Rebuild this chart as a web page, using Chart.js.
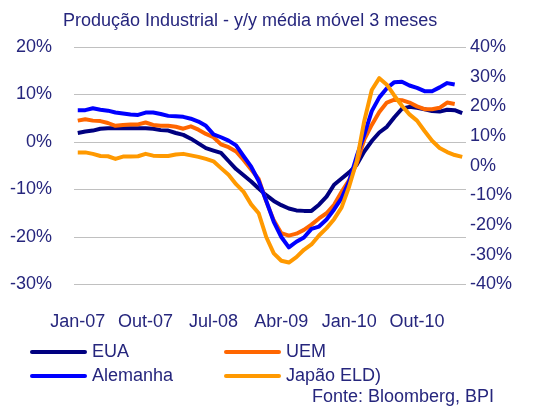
<!DOCTYPE html>
<html lang="pt">
<head>
<meta charset="utf-8">
<title>Produção Industrial</title>
<script src="https://cdn.jsdelivr.net/npm/chart.js@4.4.1/dist/chart.umd.min.js"></script>
<style>
  html, body { margin: 0; padding: 0; background: #fff; }
  #wrap { position: relative; width: 541px; height: 409px; }
</style>
</head>
<body>
<div id="wrap"><canvas id="grafico"></canvas></div>
<script>
// meses Jan-07 .. Abr-11
const categorias = [
  'Jan-07','Fev-07','Mar-07','Abr-07','Mai-07','Jun-07','Jul-07','Ago-07','Set-07','Out-07','Nov-07','Dez-07',
  'Jan-08','Fev-08','Mar-08','Abr-08','Mai-08','Jun-08','Jul-08','Ago-08','Set-08','Out-08','Nov-08','Dez-08',
  'Jan-09','Fev-09','Mar-09','Abr-09','Mai-09','Jun-09','Jul-09','Ago-09','Set-09','Out-09','Nov-09','Dez-09',
  'Jan-10','Fev-10','Mar-10','Abr-10','Mai-10','Jun-10','Jul-10','Ago-10','Set-10','Out-10','Nov-10','Dez-10',
  'Jan-11','Fev-11','Mar-11','Abr-11'
];
const rotulosX = ['Jan-07','Out-07','Jul-08','Abr-09','Jan-10','Out-10'];

// eixo esquerdo (%)
const eua = [1.9,2.2,2.4,2.8,2.9,2.9,2.9,2.9,2.9,2.9, 2.8,2.5,2.4,1.9,1.5,0.7,-0.3,-1.3,-1.8,-2.3,
  -4.0,-5.7,-7.0,-8.3,-9.8,-11.2,-12.4,-13.3,-14.0,-14.4, -14.5,-14.5,-13.2,-11.5,-9.0,-7.7,-6.4,-4.8,-2.0,0.2,
  2.0,3.2,5.2,7.0,7.4,7.2,6.9,6.5,6.4,6.8, 6.7,6.1];
const uem = [4.5,4.8,4.5,4.4,4.0,3.4,3.6,3.7,3.7,4.1, 3.6,3.4,3.4,3.2,2.8,3.3,2.6,1.7,1.0,-0.5,
  -1.1,-2.0,-3.8,-5.8,-7.8,-12.5,-16.5,-19.2,-19.7,-19.3, -18.5,-17.4,-16.1,-15.0,-13.2,-10.5,-8.0,-4.5,0.5,3.6,
  6.3,8.3,8.9,8.8,8.3,7.5,6.9,6.9,7.2,8.3, 8.0];
const alemanha = [6.7,6.7,7.1,6.8,6.6,6.2,6.0,5.8,5.7,6.2, 6.2,5.9,5.5,5.4,5.3,4.9,4.3,3.4,1.6,1.0,
  0.3,-0.7,-3.0,-5.2,-8.2,-12.4,-16.8,-20.0,-22.2,-21.0, -20.1,-18.3,-17.8,-16.3,-14.2,-11.8,-8.3,-3.0,1.5,6.5,
  9.4,11.3,12.6,12.7,11.9,11.4,10.7,10.7,11.5,12.4, 12.1];
// eixo direito (%)
const japao = [4.5,4.5,4.0,3.3,3.2,2.3,3.1,3.1,3.2,4.0, 3.4,3.3,3.3,3.8,4.0,3.5,3.0,2.3,1.5,-0.8,
  -3.0,-6.2,-8.8,-13.0,-16.0,-24.0,-29.5,-32.0,-32.6,-30.8, -28.3,-26.5,-23.5,-21.0,-18.0,-14.0,-7.0,1.5,15.0,25.5,
  29.5,27.3,23.6,20.2,17.3,15.2,11.7,8.4,6.0,4.6, 3.6,3.0];

const corTexto = '#26267d';
const fonte = 'Arial, "Liberation Sans", sans-serif';

// titulo, legenda e fonte desenhados a mao
const extras = {
  id: 'extras',
  afterDraw(chart) {
    const ctx = chart.ctx;
    ctx.save();
    ctx.fillStyle = corTexto;
    ctx.font = '18px ' + fonte;
    ctx.textBaseline = 'middle';
    ctx.textAlign = 'left';
    ctx.fillText('Produção Industrial - y/y média móvel 3 meses', 63, 21);

    const pos = [[32, 352], [226, 352], [32, 376], [226, 376]];
    chart.data.datasets.forEach(function(ds, i) {
      const p = pos[i];
      ctx.strokeStyle = ds.borderColor;
      ctx.lineWidth = 4;
      ctx.lineCap = 'round';
      ctx.beginPath();
      ctx.moveTo(p[0], p[1]);
      ctx.lineTo(p[0] + 53, p[1]);
      ctx.stroke();
      ctx.fillText(ds.label, p[0] + 60, p[1]);
    });

    ctx.textAlign = 'right';
    ctx.fillText('Fonte: Bloomberg, BPI', 494, 397);
    ctx.restore();
  }
};

new Chart(document.getElementById('grafico'), {
  type: 'line',
  data: {
    labels: categorias,
    datasets: [
      { label: 'EUA', data: eua, borderColor: '#000080', yAxisID: 'y', order: 4 },
      { label: 'UEM', data: uem, borderColor: '#ff6600', yAxisID: 'y', order: 3 },
      { label: 'Alemanha', data: alemanha, borderColor: '#0000ff', yAxisID: 'y', order: 2 },
      { label: 'Japão ELD)', data: japao, borderColor: '#ff9900', yAxisID: 'y2', order: 1 }
    ]
  },
  options: {
    responsive: true,
    maintainAspectRatio: false,
    animation: false,
    devicePixelRatio: 1,
    layout: { padding: { top: 47, left: 0, right: 0, bottom: 0 } },
    elements: {
      line: { borderWidth: 4, tension: 0, fill: false, borderJoinStyle: 'round' },
      point: { radius: 0 }
    },
    plugins: {
      legend: { display: false },
      tooltip: { enabled: false },
      title: { display: false }
    },
    scales: {
      x: {
        offset: true,
        grid: { display: false, drawTicks: false },
        border: { display: false },
        ticks: {
          autoSkip: false,
          maxRotation: 0,
          padding: 27,
          color: corTexto,
          font: { family: fonte, size: 18 },
          callback: function(v, i) {
            const l = categorias[i];
            return rotulosX.includes(l) ? l : '';
          }
        },
        afterFit: function(s) { s.height = 124.5; }
      },
      y: {
        position: 'left',
        min: -30, max: 20,
        grid: { color: '#c0c0c0', lineWidth: 1, drawTicks: false },
        border: { display: false },
        ticks: {
          stepSize: 10, padding: 22, color: corTexto,
          font: { family: fonte, size: 18 },
          callback: function(v) { return v + '%'; }
        },
        afterFit: function(s) { s.width = 74; }
      },
      y2: {
        position: 'right',
        min: -40, max: 40,
        grid: { display: false, drawTicks: false },
        border: { display: false },
        ticks: {
          stepSize: 10, padding: 4, color: corTexto,
          font: { family: fonte, size: 18 },
          callback: function(v) { return v + '%'; }
        },
        afterFit: function(s) { s.width = 75; }
      }
    }
  },
  plugins: [extras]
});
</script>
</body>
</html>
